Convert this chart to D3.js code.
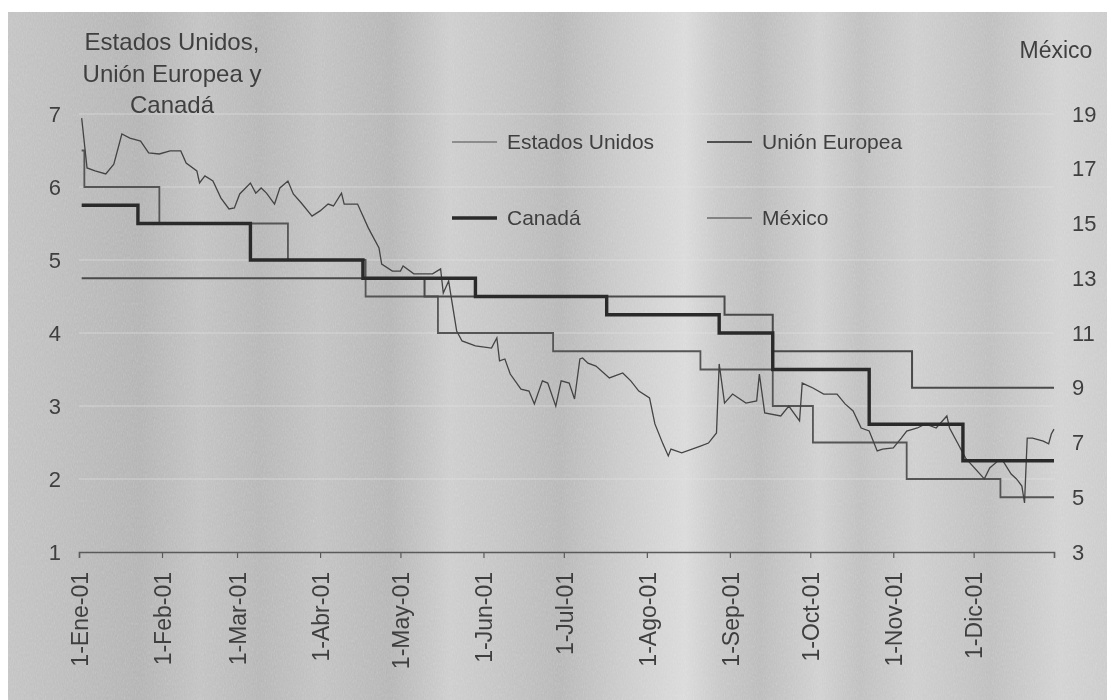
<!DOCTYPE html>
<meta charset="utf-8">
<title>Tasas de interés 2001</title>
<style>
body { margin:0; background:#fff; }
svg { display:block; font-family:"Liberation Sans", Arial, sans-serif; }
.tick text { fill:#3f3f3f; }
.lbl { fill:#3f3f3f; }
</style>
<body>
<div id="container"></div>
<script src="https://d3js.org/d3.v7.min.js"></script>
<script>
var width = 1107, height = 700;

// tasas de referencia (fechas de cambio y nivel)
var usDates = ["01-02","01-03","01-31","03-20","04-18","05-15","06-27","08-21","09-17","10-02","11-06","12-11"];
var usRates = [6.5, 6.0, 5.5, 5.0, 4.5, 4.0, 3.75, 3.5, 3.0, 2.5, 2.0, 1.75];

var euDates = ["01-02","05-10","08-30","09-17","11-08"];
var euRates = [4.75, 4.5, 4.25, 3.75, 3.25];

var caDates = ["01-02","01-23","03-06","04-17","05-29","07-17","08-28","09-17","10-23","11-27"];
var caRates = [5.75, 5.5, 5.0, 4.75, 4.5, 4.25, 4.0, 3.5, 2.75, 2.25];

// Cetes 28 dias (eje derecho)
var mxDates = ["01-02","01-04","01-07","01-11","01-14","01-17","01-20","01-24","01-27","01-31",
  "02-04","02-08","02-10","02-14","02-15","02-17","02-20","02-23","02-26","02-28",
  "03-02","03-06","03-08","03-10","03-12","03-15","03-17","03-20","03-22","03-25","03-29",
  "04-01","04-04","04-06","04-09","04-10","04-15","04-19","04-23","04-24","04-28",
  "05-01","05-02","05-06","05-13","05-16","05-17","05-19","05-20","05-22","05-24","05-29",
  "06-04","06-06","06-07","06-09","06-11","06-15","06-18","06-20","06-23","06-25","06-28","06-30",
  "07-03","07-05","07-07","07-08","07-10","07-13","07-18","07-23","07-26","07-29",
  "08-02","08-04","08-07","08-09","08-10","08-14","08-21","08-24","08-27","08-28","08-30",
  "09-02","09-07","09-11","09-12","09-14","09-20","09-23","09-27","09-28",
  "10-02","10-06","10-11","10-14","10-17","10-20","10-23","10-26","10-28",
  "11-01","11-04","11-06","11-10","11-13","11-17","11-21","11-22","11-25","11-28",
  "12-05","12-07","12-10","12-12","12-15","12-17","12-19","12-20","12-21","12-23","12-27","12-29","12-30","12-31"];
var mxRates = [18.85,17.03,16.92,16.81,17.17,18.27,18.12,18.01,17.58,17.54,
  17.65,17.65,17.21,16.92,16.48,16.74,16.55,15.93,15.53,15.57,
  16.08,16.48,16.11,16.30,16.11,15.71,16.30,16.55,16.08,15.75,15.27,
  15.46,15.71,15.64,16.11,15.71,15.71,14.84,14.11,13.52,13.26,
  13.26,13.45,13.16,13.16,13.34,12.46,12.90,12.28,11.07,10.71,10.53,
  10.45,10.82,9.98,10.05,9.50,8.95,8.88,8.41,9.25,9.17,8.33,9.25,
  9.17,8.59,10.05,10.09,9.90,9.79,9.36,9.54,9.25,8.88,
  8.63,7.68,6.95,6.51,6.76,6.62,6.87,6.98,7.35,9.87,8.44,
  8.77,8.44,8.52,9.50,8.08,7.97,8.33,7.79,9.17,
  8.99,8.77,8.77,8.41,8.15,7.53,7.42,6.69,6.76,
  6.80,7.16,7.42,7.53,7.68,7.53,7.97,7.53,6.98,6.43,
  5.67,6.07,6.32,6.32,5.85,5.67,5.41,4.79,7.16,7.16,7.05,6.95,7.31,7.49];

var monthLabels = ["Ene","Feb","Mar","Abr","May","Jun","Jul","Ago","Sep","Oct","Nov","Dic"];
var leftTicks = [1,2,3,4,5,6,7];
var rightTicks = [3,5,7,9,11,13,15,17,19];
var titleLeft = ["Estados Unidos,","Unión Europea y","Canadá"];

var parse = d3.timeParse("%Y-%m-%d");
function day(s){ return parse("2001-" + s); }
var endDate = day("12-31");

var x = d3.scaleTime().domain([day("01-01"), endDate]).range([79, 1054]);
var yL = d3.scaleLinear().domain([1, 7]).range([552, 114]);
var yR = d3.scaleLinear().domain([3, 19]).range([552, 114]);

var svg = d3.select("#container").append("svg")
    .attr("width", width)
    .attr("height", height);

// fondo de papel escaneado
var defs = svg.append("defs");
var grad = defs.append("linearGradient").attr("id","paper")
    .attr("gradientUnits","userSpaceOnUse").attr("x1",0).attr("x2",width).attr("y1",0).attr("y2",0);
[[0,"#c4c4c4"],[60,"#bdbdbd"],[140,"#b3b3b3"],[200,"#c2c2c2"],[260,"#b6b6b6"],[320,"#c2c2c2"],
 [390,"#b5b5b5"],[450,"#cdcdcd"],[500,"#c4c4c4"],[560,"#b7b7b7"],[620,"#cacaca"],[685,"#dadada"],
 [720,"#c7c7c7"],[760,"#bbbbbb"],[820,"#d0d0d0"],[860,"#bfbfbf"],[915,"#cecece"],[990,"#bebebe"],
 [1060,"#d2d2d2"],[1107,"#cbcbcb"]].forEach(function(s){
  grad.append("stop").attr("offset", s[0]/width).attr("stop-color", s[1]);
});
var f = defs.append("filter").attr("id","grain").attr("x",0).attr("y",0).attr("width","100%").attr("height","100%");
f.append("feTurbulence").attr("type","fractalNoise").attr("baseFrequency","0.9 0.35").attr("numOctaves",3).attr("seed",4);
f.append("feColorMatrix").attr("type","saturate").attr("values",0);

svg.append("rect").attr("width",width).attr("height",height).attr("fill","#fff");
svg.append("rect").attr("x",8).attr("y",12).attr("width",width-8).attr("height",height-12).attr("fill","url(#paper)");
svg.append("rect").attr("x",8).attr("y",12).attr("width",width-8).attr("height",height-12)
    .attr("filter","url(#grain)").attr("opacity",0.3).style("mix-blend-mode","overlay");

// lineas de division
svg.append("g").selectAll("line").data(leftTicks.slice(1)).enter().append("line")
    .attr("x1", x.range()[0]).attr("x2", x.range()[1])
    .attr("y1", function(d){ return yL(d); }).attr("y2", function(d){ return yL(d); })
    .attr("stroke","#e4e4e4").attr("stroke-width",1.2).attr("opacity",0.6);

// ejes
var months = d3.timeMonth.range(day("01-01"), endDate);
var xAxis = svg.append("g").attr("transform","translate(0," + yL(1) + ")")
    .call(d3.axisBottom(x).tickValues(months.concat([endDate])).tickSize(6)
      .tickFormat(function(d){ return d.getMonth() == 11 && d.getDate() == 31 ? "" : "1-" + monthLabels[d.getMonth()] + "-01"; }));
xAxis.select(".domain").attr("stroke","#5a5a5a").attr("stroke-width",1.5);
xAxis.selectAll(".tick line").attr("stroke","#5a5a5a").attr("stroke-width",1.2);
xAxis.selectAll(".tick text")
    .attr("font-size", 23)
    .attr("text-anchor","end")
    .attr("transform","rotate(-90)")
    .attr("x", -20).attr("y", 0).attr("dy","0.36em");

var lAxis = svg.append("g").attr("transform","translate(61,0)")
    .call(d3.axisLeft(yL).tickValues(leftTicks).tickSize(0).tickPadding(0).tickFormat(d3.format("d")));
lAxis.select(".domain").remove();
lAxis.selectAll(".tick text").attr("font-size", 22);

var rAxis = svg.append("g").attr("transform","translate(1072,0)")
    .call(d3.axisRight(yR).tickValues(rightTicks).tickSize(0).tickPadding(0).tickFormat(d3.format("d")));
rAxis.select(".domain").remove();
rAxis.selectAll(".tick text").attr("font-size", 22);

// titulos de ejes
svg.append("text").attr("class","lbl").attr("font-size",24).attr("text-anchor","middle")
  .selectAll("tspan").data(titleLeft).enter().append("tspan")
    .attr("x",172).attr("y",function(d,i){ return 50 + i*31.5; }).text(function(d){ return d; });
svg.append("text").attr("class","lbl").attr("font-size",23).attr("text-anchor","middle")
    .attr("x",1056).attr("y",58).text("México");

// series
function steps(dates, rates){
  var pts = dates.map(function(d,i){ return {date: day(d), v: rates[i]}; });
  pts.push({date: endDate, v: rates[rates.length-1]});
  return pts;
}
var stepLine = d3.line().curve(d3.curveStepAfter)
    .x(function(d){ return x(d.date); }).y(function(d){ return yL(d.v); });
var mxLine = d3.line()
    .x(function(d){ return x(d.date); }).y(function(d){ return yR(d.v); });

var series = [
  {name:"Estados Unidos", data:steps(usDates, usRates), line:stepLine, color:"#555", w:1.8},
  {name:"Unión Europea", data:steps(euDates, euRates), line:stepLine, color:"#4a4a4a", w:2},
  {name:"México", data:mxDates.map(function(d,i){ return {date:day(d), v:mxRates[i]}; }), line:mxLine, color:"#444", w:1.3},
  {name:"Canadá", data:steps(caDates, caRates), line:stepLine, color:"#2a2a2a", w:3.4}
];

svg.append("g").selectAll("path").data(series).enter().append("path")
    .attr("d", function(d){ return d.line(d.data); })
    .attr("fill","none")
    .attr("stroke", function(d){ return d.color; })
    .attr("stroke-width", function(d){ return d.w; })
    .attr("stroke-linejoin","miter");

// leyenda
var legend = [
  {name:"Estados Unidos", x:452, y:142, color:"#777", w:1.6},
  {name:"Unión Europea", x:707, y:142, color:"#505050", w:1.8},
  {name:"Canadá", x:452, y:218, color:"#2a2a2a", w:3.4},
  {name:"México", x:707, y:218, color:"#6a6a6a", w:1.6}
];
var lg = svg.append("g").selectAll("g").data(legend).enter().append("g")
    .attr("transform", function(d){ return "translate(" + d.x + "," + d.y + ")"; });
lg.append("line").attr("x1",0).attr("x2",45)
    .attr("stroke", function(d){ return d.color; })
    .attr("stroke-width", function(d){ return d.w; });
lg.append("text").attr("class","lbl").attr("x",55).attr("dy","0.35em").attr("font-size",21)
    .text(function(d){ return d.name; });
</script>
</body>
</html>
